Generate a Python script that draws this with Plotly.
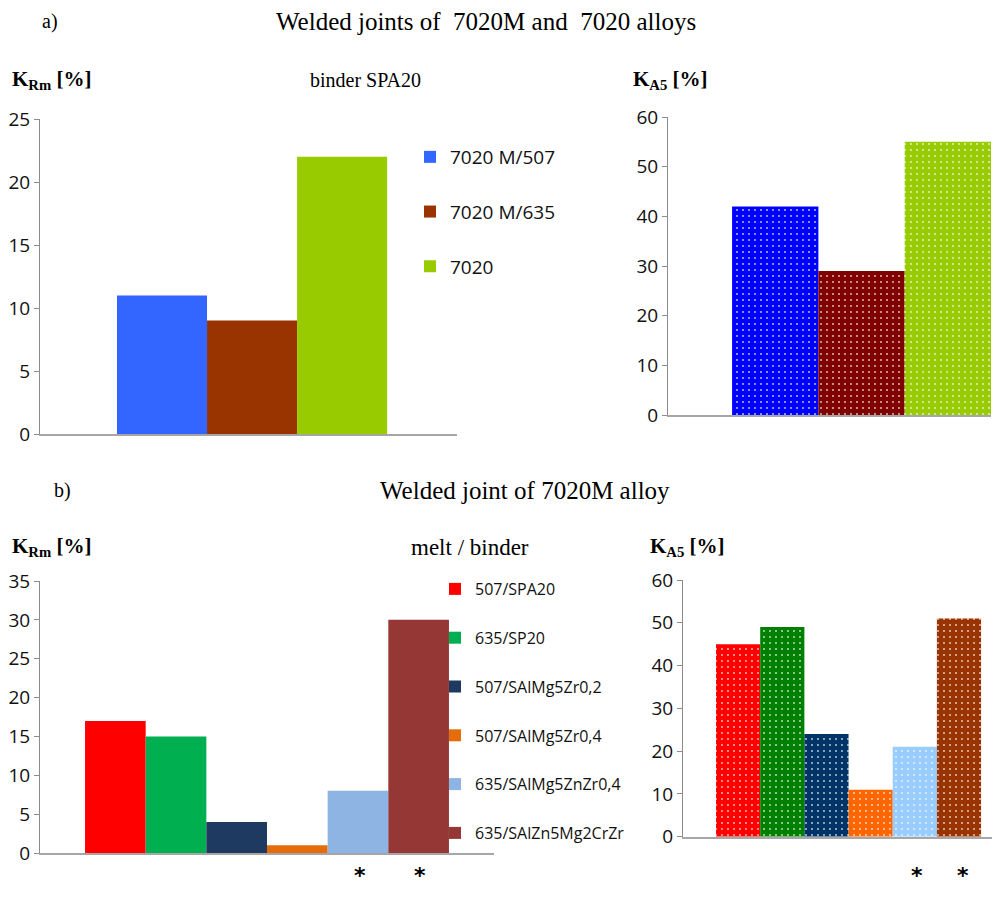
import plotly.graph_objects as go

W, H = 993, 908

# ---------------- data ----------------
a_series = ["7020 M/507", "7020 M/635", "7020"]
a_krm = [11, 9, 22]
a_ka5 = [42, 29, 55]
a_colors_left = ["#3366FF", "#993300", "#99CC00"]
a_colors_right = ["#0000FF", "#800000", "#99CC00"]

b_series = ["507/SPA20", "635/SP20", "507/SAlMg5Zr0,2", "507/SAlMg5Zr0,4",
            "635/SAlMg5ZnZr0,4", "635/SAlZn5Mg2CrZr"]
b_krm = [17, 15, 4, 1, 8, 30]
b_ka5 = [45, 49, 24, 11, 21, 51]
b_colors_left = ["#FF0000", "#00B050", "#1F3A60", "#E46C0A", "#8DB4E2", "#953735"]
b_colors_right = ["#FF0000", "#008000", "#003366", "#FF6600", "#99CCFF", "#993300"]

a_ticks_krm = [0, 5, 10, 15, 20, 25]
a_ticks_ka5 = [0, 10, 20, 30, 40, 50, 60]
b_ticks_krm = [0, 5, 10, 15, 20, 25, 30, 35]
b_ticks_ka5 = [0, 10, 20, 30, 40, 50, 60]


def px_x(p):
    return p / W


def px_y(p):
    return 1 - p / H


fig = go.Figure()

dots = dict(shape=".", fgcolor="white", size=6, solidity=0.07, fgopacity=0.8)

# panel a left
for name, v, c in zip(a_series, a_krm, a_colors_left):
    fig.add_trace(go.Bar(x=["g"], y=[v], name=name, marker=dict(color=c, line=dict(width=0)),
                         xaxis="x", yaxis="y", legend="legend", legendgroup=name))
# panel a right
for name, v, c in zip(a_series, a_ka5, a_colors_right):
    fig.add_trace(go.Bar(x=["g"], y=[v], name=name, showlegend=False,
                         marker=dict(color=c, line=dict(width=0), pattern=dots),
                         xaxis="x2", yaxis="y2"))
# panel b left
for name, v, c in zip(b_series, b_krm, b_colors_left):
    fig.add_trace(go.Bar(x=["g"], y=[v], name=name, marker=dict(color=c, line=dict(width=0)),
                         xaxis="x3", yaxis="y3", legend="legend2", legendgroup=name))
# panel b right
for name, v, c in zip(b_series, b_ka5, b_colors_right):
    fig.add_trace(go.Bar(x=["g"], y=[v], name=name, showlegend=False,
                         marker=dict(color=c, line=dict(width=0), pattern=dots),
                         xaxis="x4", yaxis="y4"))

axcol = "#8C8C8C"
tickfont = dict(family="Open Sans, Noto Sans, sans-serif", size=19, color="#111")


def yax(dom_top, dom_bot, ticks, anchor):
    return dict(domain=[px_y(dom_bot), px_y(dom_top)], range=[0, max(ticks)],
                tickvals=ticks, showgrid=False, zeroline=False, showline=True,
                linecolor=axcol, linewidth=1, ticks="outside", ticklen=5,
                tickcolor=axcol, tickfont=tickfont, anchor=anchor, fixedrange=True)


def xax(x0, x1, rng, anchor):
    return dict(domain=[px_x(x0), px_x(x1)], range=rng, type="category",
                showticklabels=False, showgrid=False, zeroline=False, showline=True,
                linecolor="#A6A6A6", linewidth=2, ticks="", anchor=anchor)


fig.update_layout(
    width=W, height=H, margin=dict(l=0, r=0, t=0, b=0, autoexpand=False),
    paper_bgcolor="white", plot_bgcolor="white",
    barmode="group", bargap=0.2, bargroupgap=0,
    xaxis=xax(40, 457, [-0.628, 0.607], "y"),
    yaxis=yax(119, 434, a_ticks_krm, "x"),
    xaxis2=xax(668, 991, [-0.598, 0.4], "y2"),
    yaxis2=yax(117, 415, a_ticks_ka5, "x2"),
    xaxis3=xax(40, 494, [-0.499, 0.499], "y3"),
    yaxis3=yax(581, 853, b_ticks_krm, "x3"),
    xaxis4=xax(683, 992, [-0.4997, 0.433], "y4"),
    yaxis4=yax(580, 836.7, b_ticks_ka5, "x4"),
    legend=dict(x=px_x(410), y=px_y(138), xanchor="left", yanchor="top",
                font=dict(family="Open Sans, Noto Sans, sans-serif", size=19, color="#111"),
                tracegroupgap=27, bgcolor="rgba(0,0,0,0)", itemclick=False),
    legend2=dict(x=px_x(435), y=px_y(572), xanchor="left", yanchor="top",
                 font=dict(family="Open Sans, Noto Sans, sans-serif", size=16, color="#111"),
                 tracegroupgap=25, bgcolor="rgba(0,0,0,0)", itemclick=False),
    showlegend=True,
)

serif = "Liberation Serif, DejaVu Serif, serif"
ann = []


def text(t, x, y, size=20, anchor="left", family=serif):
    ann.append(dict(text=t, x=px_x(x), y=px_y(y), xref="paper", yref="paper",
                    xanchor=anchor, yanchor="middle", showarrow=False,
                    font=dict(family=family, size=size, color="#000")))


text("a)", 40, 22)
text("Welded joints of  7020M and  7020 alloys", 486, 22, size=25, anchor="center")
text("<b>K<sub>Rm</sub> [%]</b>", 10, 80, size=21)
text("binder SPA20", 365, 80, anchor="center")
text("<b>K<sub>A5</sub> [%]</b>", 670, 80, size=21, anchor="center")
text("b)", 52, 490)
text("Welded joint of 7020M alloy", 525, 490, size=25, anchor="center")
text("<b>K<sub>Rm</sub> [%]</b>", 10, 547, size=21)
text("melt / binder", 470, 547, size=23, anchor="center")
text("<b>K<sub>A5</sub> [%]</b>", 687, 547, size=21, anchor="center")
for xs in (360, 420, 917, 963):
    text("<b>*</b>", xs, 875, size=22, anchor="center", family="DejaVu Sans, sans-serif")

fig.update_layout(annotations=ann)

fig.write_html("out.html")
